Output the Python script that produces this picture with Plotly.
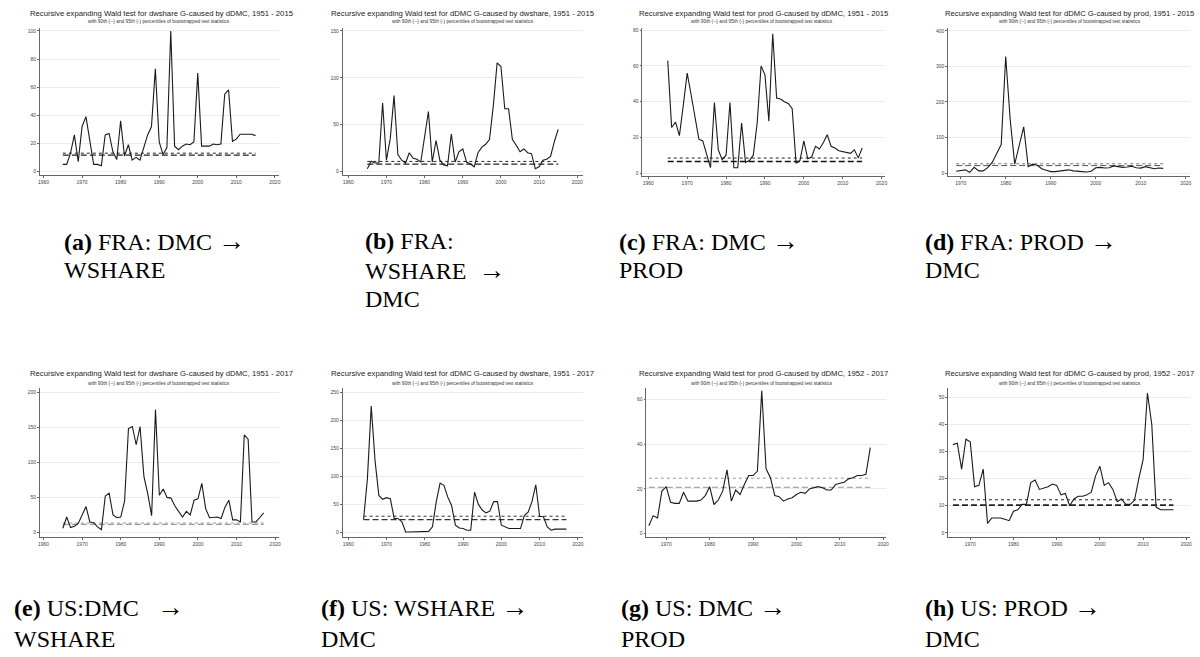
import plotly.graph_objects as go

# ---------------- DATA ----------------
years_a = list(range(1965, 2016))
wald_a = [5, 5, 13, 26, 7, 32, 39, 22, 5, 5, 4, 26, 27, 14, 8.5, 36, 11, 19, 8, 10,
          8, 17, 26, 32, 73, 21, 12, 17, 100, 18, 15.5, 18, 19.5, 19, 21, 70, 18, 18,
          18, 19.5, 19, 19.5, 55, 58, 21.5, 23, 26.5, 26.5, 26.5, 26.5, 25.5]
p90_a, p95_a = 13.0, 11.6

years_b = list(range(1965, 2016))
wald_b = [3, 11, 9, 9, 73, 12, 35, 81, 18, 12, 9, 20, 14, 13, 10, 37, 64, 10, 33, 12,
          7, 6, 40, 10, 21, 24, 10, 8, 5, 20, 26, 29, 34, 70, 116, 112, 67, 67, 34, 28,
          21, 24, 20, 19, 3, 5, 12, 13, 16, 32, 45]
p90_b, p95_b = 10.7, 7.8

years_c = list(range(1965, 2016))
wald_c = [63, 25.5, 28.5, 21, 38, 56, 44, 32, 19, 18, 10, 3, 39.5, 13, 7.5, 10, 39.5,
          3, 3, 28, 6, 7, 10, 28, 60, 55, 29, 78, 42, 41.5, 40, 39, 36, 5.5, 7, 18, 8,
          9, 15, 13.5, 17, 21.5, 15, 14, 12.5, 12, 11.5, 11, 13, 8.5, 14]
p90_c, p95_c = 8.4, 6.5

years_d = list(range(1969, 2016))
wald_d = [5, 8, 9, 2, 16, 6, 6, 15, 30, 55, 80, 328, 150, 25, 80, 130, 18, 25, 22, 12,
          8, 4, 4, 5, 8, 9, 6, 4, 4, 3, 5, 15, 16, 14, 15, 20, 18, 16, 17, 19, 15, 14,
          18, 14, 12, 14, 13]
p90_d, p95_d = 26.0, 21.0

years_e = list(range(1965, 2018))
wald_e = [6, 22, 7, 9, 13, 25, 37, 15, 14, 8, 4, 52, 56, 25, 21, 22, 45, 148, 151, 125,
          151, 80, 55, 24, 175, 53, 62, 50, 49, 38, 29, 22, 30, 25, 46, 48, 70, 34, 21,
          21, 22, 20, 36, 46, 18, 18, 15, 139, 133, 15, 15, 21, 28]
p90_e, p95_e = 13.5, 11.5

years_f = list(range(1964, 2018))
wald_f = [23, 95, 225, 128, 66, 59, 62, 60, 25, 25, 19, 1, 1, 1, 1, 1, 1, 2, 10, 55,
          88, 84, 63, 48, 13, 8, 7, 4, 4, 72, 50, 40, 35, 38, 55, 55, 13, 10, 7, 7, 7,
          7, 30, 36, 55, 85, 29, 28, 10, 4, 6, 6, 6, 6]
p90_f, p95_f = 29.0, 23.0

years_g = list(range(1966, 2018))
wald_g = [3.5, 8, 7, 19, 21, 14, 13.5, 13.5, 18.5, 14.5, 14.5, 14.5, 15, 17, 21, 13, 15,
          19, 28.5, 14.5, 19.5, 17.5, 22, 26, 26, 28, 64, 29, 25, 17, 16.5, 14.5, 15.5,
          16, 17.5, 18.5, 18, 20, 20.5, 21, 20.5, 19.5, 19.5, 22, 22.5, 23, 24.5, 25,
          26, 26, 26.5, 38.5]
p90_g, p95_g = 24.8, 20.7

years_h = list(range(1966, 2018))
wald_h = [32.5, 33, 23.5, 34.5, 33.5, 17, 17.5, 23.5, 3.5, 5.5, 5.5, 5.5, 5, 4.5, 8, 8.5,
          10.5, 10.5, 18.5, 19.5, 16, 16.5, 17, 18, 17.5, 14, 14.5, 10, 12.5, 13.5, 13.5,
          14, 15, 21, 24.5, 17.5, 18.5, 16, 11.5, 12.5, 10.5, 10.5, 12, 20, 27, 51.5, 40,
          9.5, 8.5, 8.5, 8.5, 8.5]
p90_h, p95_h = 12.2, 10.2

titles = [
    "Recursive expanding Wald test for dwshare G-caused by dDMC, 1951 - 2015",
    "Recursive expanding Wald test for dDMC G-caused by dwshare, 1951 - 2015",
    "Recursive expanding Wald test for prod G-caused by dDMC, 1951 - 2015",
    "Recursive expanding Wald test for dDMC G-caused by prod, 1951 - 2015",
    "Recursive expanding Wald test for dwshare G-caused by dDMC, 1951 - 2017",
    "Recursive expanding Wald test for dDMC G-caused by dwshare, 1951 - 2017",
    "Recursive expanding Wald test for prod G-caused by dDMC, 1952 - 2017",
    "Recursive expanding Wald test for dDMC G-caused by prod, 1952 - 2017",
]
subtitle = "with 90th (--) and 95th (-) percentiles of bootstrapped test statistics"

ARROW = "<span style=\"font-size:27px\">→</span>"
captions = [
    ["<b>(a)</b> FRA: DMC " + ARROW, "WSHARE"],
    ["<b>(b)</b> FRA:", "WSHARE\u00a0\u00a0" + ARROW, "DMC"],
    ["<b>(c)</b> FRA: DMC " + ARROW, "PROD"],
    ["<b>(d)</b> FRA: PROD " + ARROW, "DMC"],
    ["<b>(e)</b> US:DMC\u00a0\u00a0\u00a0" + ARROW, "WSHARE"],
    ["<b>(f)</b> US: WSHARE " + ARROW, "DMC"],
    ["<b>(g)</b> US: DMC " + ARROW, "PROD"],
    ["<b>(h)</b> US: PROD " + ARROW, "DMC"],
]

series = [
    (years_a, wald_a, p90_a, p95_a),
    (years_b, wald_b, p90_b, p95_b),
    (years_c, wald_c, p90_c, p95_c),
    (years_d, wald_d, p90_d, p95_d),
    (years_e, wald_e, p90_e, p95_e),
    (years_f, wald_f, p90_f, p95_f),
    (years_g, wald_g, p90_g, p95_g),
    (years_h, wald_h, p90_h, p95_h),
]

# ---------------- LAYOUT (pixel geometry) ----------------
W, H = 1200, 657
panels = [
    dict(box=(38, 278, 27, 174), xcal=(1960, 41.7, 2020, 274.0), ycal=(0, 170.7, 100, 30.0), dt=20,
         tx=160, ty=13, sx=158, sy=21, c90="#222", c95="#222", w95=1.2, cx=60, cy=240, ls=29),
    dict(box=(342, 583, 27, 174), xcal=(1960, 347.7, 2020, 577.7), ycal=(0, 170.7, 150, 30.0), dt=50,
         tx=462, ty=13, sx=463, sy=21, c90="#222", c95="#222", w95=1.2, cx=363, cy=240, ls=29),
    dict(box=(643, 887, 27, 175), xcal=(1960, 649.0, 2020, 883.3), ycal=(0, 172.3, 80, 29.3), dt=20,
         tx=765, ty=13, sx=763, sy=21, c90="#222", c95="#111", w95=1.6, cx=618, cy=240, ls=29),
    dict(box=(950, 1193, 27, 175), xcal=(1970, 962.7, 2020, 1188.7), ycal=(0, 172.3, 400, 30.0), dt=100,
         tx=1072, ty=13, sx=1072, sy=21, c90="#777", c95="#555", w95=1.0, cx=925, cy=240, ls=29),
    dict(box=(38, 278, 388, 537), xcal=(1960, 41.7, 2020, 274.3), ycal=(0, 532.3, 200, 391.7), dt=50,
         tx=160, ty=373, sx=158, sy=383, c90="#999", c95="#999", w95=1.2, cx=10, cy=607, ls=32),
    dict(box=(342, 583, 388, 537), xcal=(1960, 347.7, 2020, 578.3), ycal=(0, 532.3, 250, 391.7), dt=50,
         tx=462, ty=373, sx=463, sy=383, c90="#333", c95="#333", w95=1.2, cx=318, cy=607, ls=32),
    dict(box=(647, 888, 388, 537), xcal=(1970, 667.0, 2020, 885.0), ycal=(0, 533.3, 60, 399.3), dt=20,
         tx=765, ty=373, sx=763, sy=383, c90="#999", c95="#aaa", w95=1.2, cx=620, cy=607, ls=32),
    dict(box=(950, 1193, 388, 537), xcal=(1970, 972.3, 2020, 1189.3), ycal=(0, 532.7, 50, 396.7), dt=10,
         tx=1072, ty=373, sx=1072, sy=383, c90="#222", c95="#222", w95=1.8, cx=925, cy=607, ls=32),
]


def lin(cal, p):
    v1, p1, v2, p2 = cal
    return v1 + (p - p1) * (v2 - v1) / (p2 - p1)


fig = go.Figure()
layout = dict(width=W, height=H, margin=dict(l=0, r=0, t=0, b=0),
              paper_bgcolor="white", plot_bgcolor="white", showlegend=False)
annotations = []

tick_font = dict(family="Liberation Sans, Arial", size=5, color="#444")

for i, (pan, (yrs, vals, p90, p95)) in enumerate(zip(panels, series)):
    n = i + 1
    xa = "xaxis" if n == 1 else f"xaxis{n}"
    ya = "yaxis" if n == 1 else f"yaxis{n}"
    xr = "x" if n == 1 else f"x{n}"
    yr = "y" if n == 1 else f"y{n}"
    x0, x1, y0, y1 = pan["box"]
    layout[xa] = dict(
        domain=[x0 / W, x1 / W], anchor=yr,
        range=[lin(pan["xcal"], x0), lin(pan["xcal"], x1)],
        tickmode="linear", tick0=1960, dtick=10,
        showgrid=False, zeroline=False, showline=True, linecolor="#666", linewidth=0.6,
        ticks="outside", ticklen=2, tickcolor="#666", tickwidth=0.6,
        tickfont=tick_font, fixedrange=True,
    )
    layout[ya] = dict(
        domain=[1 - y1 / H, 1 - y0 / H], anchor=xr,
        range=[lin(pan["ycal"], y1), lin(pan["ycal"], y0)],
        tickmode="linear", tick0=0, dtick=pan["dt"],
        showgrid=True, gridcolor="#ececec", gridwidth=0.7,
        zeroline=False, showline=True, linecolor="#666", linewidth=0.6,
        ticks="outside", ticklen=2, tickcolor="#666", tickwidth=0.6,
        tickfont=tick_font, fixedrange=True,
    )
    fig.add_trace(go.Scatter(x=[yrs[0], yrs[-1]], y=[p90, p90], mode="lines",
                             line=dict(color=pan["c90"], width=1.0, dash="dot"),
                             xaxis=xr, yaxis=yr, hoverinfo="skip"))
    fig.add_trace(go.Scatter(x=[yrs[0], yrs[-1]], y=[p95, p95], mode="lines",
                             line=dict(color=pan["c95"], width=pan["w95"], dash="6px,3px"),
                             xaxis=xr, yaxis=yr, hoverinfo="skip"))
    fig.add_trace(go.Scatter(x=yrs, y=vals, mode="lines",
                             line=dict(color="#1a1a1a", width=1.1),
                             xaxis=xr, yaxis=yr))
    annotations.append(dict(text=titles[i], x=pan["tx"] / W, y=1 - pan["ty"] / H,
                            xref="paper", yref="paper", xanchor="center", yanchor="middle",
                            showarrow=False,
                            font=dict(family="Liberation Sans, Arial", size=7.7, color="#222")))
    annotations.append(dict(text=subtitle, x=pan["sx"] / W, y=1 - pan["sy"] / H,
                            xref="paper", yref="paper", xanchor="center", yanchor="middle",
                            showarrow=False,
                            font=dict(family="Liberation Sans, Arial", size=4.8, color="#333")))
    for k, line in enumerate(captions[i]):
        annotations.append(dict(text=line, x=pan["cx"] / W,
                                y=1 - (pan["cy"] + k * pan["ls"]) / H,
                                xref="paper", yref="paper", xanchor="left", yanchor="middle",
                                showarrow=False,
                                font=dict(family="Liberation Serif, Times New Roman", size=24,
                                          color="black")))

layout["annotations"] = annotations
fig.update_layout(**layout)
fig.write_html("out.html", config={"displayModeBar": False},
               post_script="document.body.style.margin='0';document.body.style.overflow='hidden';")
